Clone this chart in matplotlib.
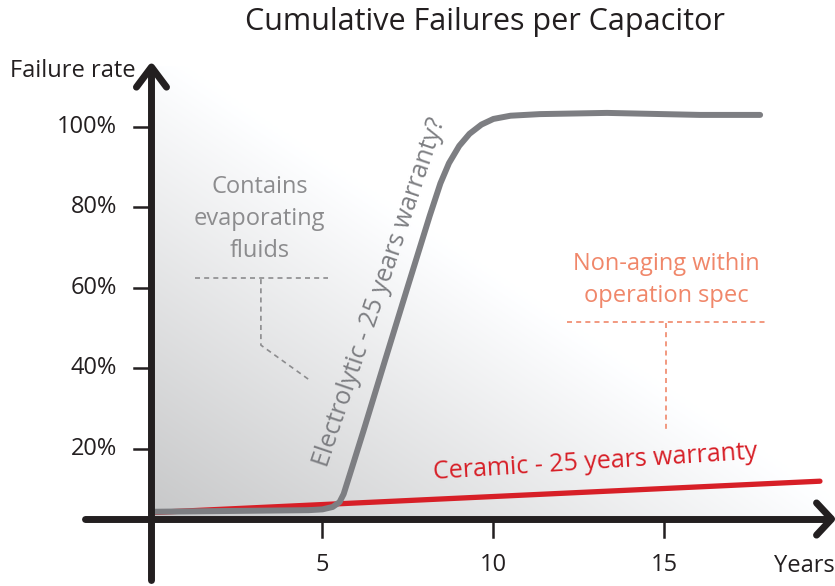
import numpy as np
import matplotlib
matplotlib.use("Agg")
import matplotlib.pyplot as plt

plt.rcParams['font.family'] = ['Open Sans', 'DejaVu Sans']

# Chart data
title = 'Cumulative Failures per Capacitor'
y_ticks = [20, 40, 60, 80, 100]
y_tick_labels = ['20%', '40%', '60%', '80%', '100%']
x_ticks = [5, 10, 15]
x_tick_labels = ['5', '10', '15']

# Electrolytic capacitor curve (years, failure rate %)
elec_years = [0, 4.6, 5.0, 5.3, 5.5, 5.62, 5.72, 5.85, 6.2, 6.83, 7.5, 8.14,
              8.45, 8.7, 9.0, 9.3, 9.65, 10.0, 10.5, 11.36, 13.32, 16.04, 17.8]
elec_rate = [4.4, 4.8, 5.0, 5.6, 6.8, 8.8, 11.5, 15.0, 24.5, 42.0, 60.5, 78.0,
             86.0, 91.0, 95.3, 98.3, 100.6, 102.0, 102.8, 103.2, 103.5, 103.0, 103.0]

# Ceramic capacitor line
cer_years = [0, 19.55]
cer_rate = [4.2, 12.0]

AX_COL = '#231f20'
GRAY = '#7d7e82'
RED = '#d71f27'
SALMON = '#f0876a'
NOTE_GRAY = '#8c8c8e'

fig = plt.figure(figsize=(8.35, 5.86), dpi=100)
ax = fig.add_axes([0, 0, 1, 1])
ax.set_xlim(-4.43, 19.99)
ax.set_ylim(-14.04, 131.55)
ax.axis('off')

# gray gradient background, dark at lower left, white towards upper right
x0, x1, y0, y1 = -0.04, 19.84, 2.6, 114.9
u = np.linspace(0, 1, 400)[None, :]
v = np.linspace(1, 0, 300)[:, None]
s = np.clip((u + v) / 1.05, 0, 1)
shade = 0.78 + 0.22 * s
img = np.stack([shade, shade * 1.003, shade * 1.008], axis=-1).clip(0, 1)
ax.imshow(img, extent=[x0, x1, y0, y1], aspect='auto', zorder=0,
          interpolation='bilinear')

# axes with arrow heads
lw_ax = 5
ax.plot([0, 0], [-12.5, 114.6], color=AX_COL, lw=lw_ax, solid_capstyle='round', zorder=5)
ax.plot([-0.44, 0, 0.44], [109.9, 114.9, 109.9], color=AX_COL, lw=lw_ax,
        solid_capstyle='round', solid_joinstyle='round', zorder=5)
ax.plot([-1.95, 19.8], [2.6, 2.6], color=AX_COL, lw=lw_ax, solid_capstyle='round', zorder=5)
ax.plot([19.45, 19.89, 19.45], [6.6, 2.6, -1.4], color=AX_COL, lw=lw_ax,
        solid_capstyle='round', solid_joinstyle='round', zorder=5)

# ticks and tick labels
for yt, lab in zip(y_ticks, y_tick_labels):
    ax.plot([-0.52, 0], [yt, yt], color=AX_COL, lw=1.8, zorder=5)
    ax.text(-1.01, yt, lab, ha='right', va='center', fontsize=17, color=AX_COL)
for xt, lab in zip(x_ticks, x_tick_labels):
    ax.plot([xt, xt], [2.6, -1.9], color=AX_COL, lw=1.8, zorder=5)
    ax.text(xt, -8.9, lab, ha='center', va='center', fontsize=17, color=AX_COL)

ax.text(19.1, -9.0, 'Years', ha='center', va='center', fontsize=17, color=AX_COL)
ax.text(-2.3, 113.8, 'Failure rate', ha='center', va='center', fontsize=17, color=AX_COL)
fig.text(485 / 835, 1 - 22 / 586, title, ha='center', va='center', fontsize=22, color=AX_COL)

# series
ax.plot(cer_years, cer_rate, color=RED, lw=3.8, solid_capstyle='round', zorder=3)
ax.plot(elec_years, elec_rate, color=GRAY, lw=4.3, solid_capstyle='round',
        solid_joinstyle='round', zorder=4)

ax.text(6.68, 59.0, 'Electrolytic - 25 years warranty?', rotation=71.3,
        rotation_mode='anchor', ha='center', va='center', fontsize=18, color=GRAY)
ax.text(12.97, 16.6, 'Ceramic - 25 years warranty', rotation=3.6,
        rotation_mode='anchor', ha='center', va='center', fontsize=18, color=RED)

# annotations
ax.text(3.17, 77.1, 'Contains\nevaporating\nfluids', ha='center', va='center',
        fontsize=17, color=NOTE_GRAY, linespacing=1.45)
ax.plot([1.27, 5.16], [62.5, 62.5], color=NOTE_GRAY, lw=1.2, dashes=(3, 2.5))
ax.plot([3.2, 3.2, 4.66], [62.2, 45.8, 36.9], color=NOTE_GRAY, lw=1.2, dashes=(3, 2.5))

ax.text(15.07, 62.0, 'Non-aging within\noperation spec', ha='center', va='center',
        fontsize=17, color=SALMON, linespacing=1.45)
ax.plot([12.15, 18.0], [51.6, 51.6], color=SALMON, lw=1.2, dashes=(3, 2.5))
ax.plot([15.04, 15.04], [51.3, 24.7], color=SALMON, lw=1.2, dashes=(3, 2.5))

fig.savefig('out.png', dpi=100)
